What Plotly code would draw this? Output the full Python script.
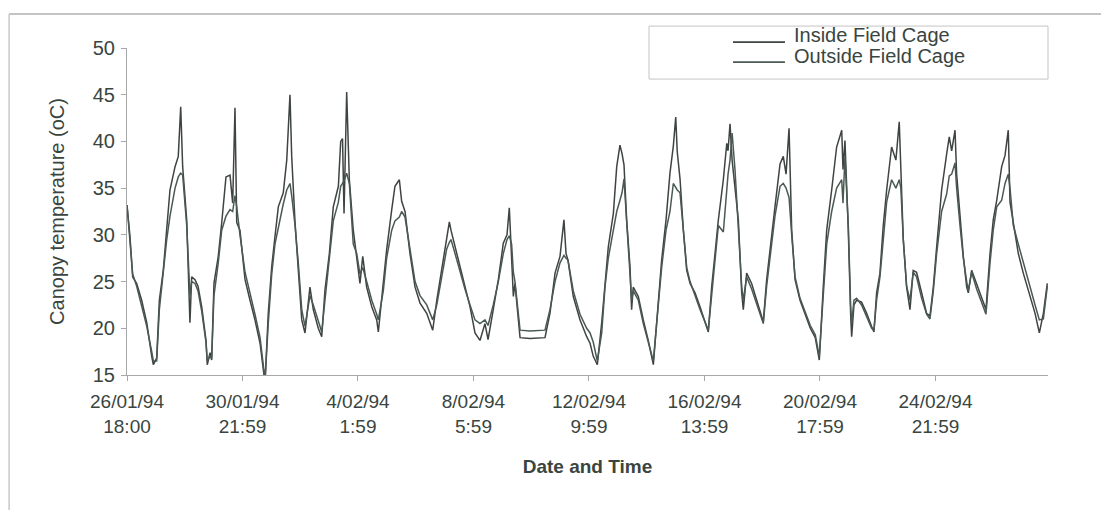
import pandas as pd
import plotly.graph_objects as go

# hours elapsed since 26/01/94 18:00
hours = [
    0, 2.6, 4.9, 8.4, 12.7, 17.1, 21.4, 22.8, 25.7, 28.0, 31.4, 34.4, 37.2, 41.6, 44.4, 46.5, 48.2, 51.7, 54.5,
    56.0, 58.9, 61.5, 64.7, 68.4, 69.5, 71.9, 73.3, 75.3, 79.0, 82.0, 85.7, 89.2, 91.5, 93.5, 95.0, 97.8,
    102.2, 106.5, 110.8, 115.2, 119.5, 122.3, 125.3, 128.1, 131.0, 135.3, 138.3, 141.1, 142.6, 145.5,
    148.3, 151.3, 154.1, 158.4, 161.3, 165.6, 168.6, 171.4, 175.2, 178.6, 183.0, 185.0, 186.6, 187.9, 190.2, 192.5, 195.9,
    198.9, 201.7, 204.1, 207.5, 211.9, 216.2, 217.6, 221.9, 224.8, 229.2, 232.0, 235.8, 237.8, 240.7, 245.0,
    249.4, 253.7, 259.5, 264.7, 268.2, 272.5, 276.8, 279.1, 280.5, 284.0, 288.3, 292.6, 297.0,
    301.3, 305.6, 309.9, 312.6, 317.1, 321.5, 325.8, 329.0, 331.0, 333.0, 334.5, 335.9,
    340.3, 348.9, 361.9, 366.2, 370.6, 374.9, 378.3, 380.1, 381.8, 386.4, 392.2, 398.0, 400.9, 403.7, 407.2,
    411.0, 413.9, 416.7, 421.1, 424.0, 426.8, 428.6, 430.3, 432.6, 435.5, 436.9, 438.3, 442.7, 447.0, 451.3, 455.7,
    460.0, 462.9, 466.7, 470.1, 473.0, 475.1, 476.4, 478.8, 481.7, 484.6, 487.5, 491.8, 496.1, 503.3,
    506.2, 509.1, 512.0, 516.3, 519.3, 520.4, 522.1, 523.9, 526.4, 529.3, 532.2, 533.6, 536.5, 540.8, 545.2, 550.9,
    553.8, 557.3, 561.0, 565.4, 568.2, 570.6, 573.2, 575.5, 578.4, 582.7, 588.5, 591.6, 595.9, 599.4,
    602.8, 605.8, 610.1, 614.4, 618.8, 619.9, 621.6, 624.5, 626.5, 627.4, 629.4, 631.7, 636.0, 640.4, 644.7, 646.7,
    649.0, 651.9, 654.7, 657.7, 662.0, 665.7, 668.6, 670.0, 672.1, 675.0, 677.9, 680.7, 683.6, 688.0, 692.3, 695.2,
    698.1, 701.0, 705.3, 709.7, 711.9, 714.0, 716.9, 718.3, 721.2, 724.1, 727.0, 728.4, 731.3, 735.6, 739.9, 743.7,
    747.2, 750.0, 753.0, 757.3, 760.2, 763.0, 764.5, 767.4, 771.7, 776.0, 781.8, 786.2, 789.9, 793.4, 796.8,
]

inside_temp = [
    33.2, 29.8, 25.5, 24.8, 23.0, 20.6, 17.0, 16.1, 16.8, 23.0, 26.2, 30.2, 34.8, 37.3, 38.4, 43.7, 37.3, 31.6, 20.6,
    25.5, 25.2, 24.5, 22.3, 18.7, 16.1, 17.4, 16.6, 24.8, 27.7, 31.3, 36.2, 36.4, 33.4, 43.6, 31.3, 30.5,
    25.2, 23.0, 20.9, 18.4, 14.1, 21.6, 26.6, 29.8, 33.0, 34.5, 38.0, 45.0, 38.4, 31.3,
    26.6, 20.9, 19.5, 24.4, 22.0, 20.0, 19.1, 24.1, 28.0, 33.0, 35.2, 40.0, 40.3, 32.3, 45.3, 35.9, 30.5,
    27.3, 24.8, 27.7, 24.4, 22.3, 20.9, 19.6, 25.2, 28.4, 32.7, 35.2, 35.9, 33.6, 32.5, 28.0,
    24.4, 22.7, 21.6, 19.8, 23.0, 26.2, 29.5, 31.4, 30.5, 28.7, 26.6, 24.4, 22.3,
    19.5, 18.7, 20.5, 18.8, 22.0, 25.2, 29.1, 30.0, 32.9, 27.7, 23.4, 24.8,
    19.0, 18.9, 19.0, 21.6, 25.9, 27.7, 31.6, 28.0, 27.3, 23.4, 20.9, 19.1, 18.4, 17.0, 16.1,
    20.6, 25.2, 28.7, 32.3, 37.3, 39.6, 38.7, 37.5, 31.6, 26.6, 22.0, 24.4, 23.4, 20.9, 18.7, 16.1,
    23.4, 27.3, 31.6, 36.6, 39.5, 42.6, 38.9, 36.0, 30.5, 26.2, 24.8, 23.8, 22.3, 19.6,
    24.4, 28.0, 31.6, 35.9, 39.8, 39.0, 41.9, 38.0, 35.0, 31.6, 23.8, 22.0, 25.9, 24.8, 23.0, 20.7,
    25.2, 28.7, 33.0, 37.6, 38.4, 36.5, 41.4, 30.5, 25.2, 23.0, 20.9, 20.0, 19.0, 16.6,
    24.4, 30.5, 34.8, 39.4, 41.2, 37.0, 40.1, 30.5, 21.6, 19.1, 22.5, 23.0, 22.8, 21.6, 20.2, 19.6,
    23.8, 25.9, 30.9, 34.8, 39.4, 38.0, 42.1, 36.0, 29.5, 24.4, 22.0, 26.2, 26.0, 23.8, 21.6, 21.3,
    24.4, 28.7, 34.8, 38.7, 40.5, 39.0, 41.2, 36.5, 31.6, 27.7, 24.4, 23.8, 26.2, 24.8, 23.4, 22.0,
    28.0, 31.6, 33.7, 37.3, 38.5, 41.2, 33.5, 31.2, 28.0, 25.9, 23.4, 21.6, 19.5, 21.6, 24.8,
]

outside_temp = [
    33.2, 29.5, 25.8, 24.5, 22.5, 20.2, 17.5, 16.5, 16.5, 22.0, 26.0, 29.5, 32.0, 35.0, 36.2, 36.6, 36.4, 31.0, 23.5,
    25.0, 24.8, 24.0, 21.8, 18.5, 16.5, 17.0, 16.8, 23.5, 27.0, 30.5, 32.0, 32.7, 32.5, 34.2, 33.0, 30.0,
    26.0, 23.8, 21.5, 19.0, 14.5, 20.5, 25.8, 29.0, 30.9, 33.3, 34.8, 35.5, 34.2, 31.0,
    27.0, 22.0, 20.2, 23.5, 22.5, 20.8, 19.6, 23.0, 27.5, 31.5, 33.5, 35.2, 35.5, 35.8, 36.6, 35.5, 29.0,
    28.0, 25.8, 26.5, 25.0, 23.0, 21.5, 20.9, 24.0, 27.5, 30.5, 31.5, 31.9, 32.5, 31.9, 28.5,
    25.0, 23.5, 22.5, 20.9, 22.5, 25.5, 28.5, 29.2, 29.5, 28.0, 26.0, 24.2, 22.5,
    20.9, 20.5, 20.9, 20.3, 22.5, 25.0, 28.0, 29.5, 29.9, 29.0, 26.0, 25.0,
    19.8, 19.7, 19.8, 22.0, 25.0, 27.0, 27.8, 27.5, 27.3, 24.0, 21.5, 20.0, 19.5, 18.5, 16.5,
    19.5, 24.5, 27.5, 30.5, 32.5, 33.7, 34.5, 36.0, 31.0, 26.0, 23.0, 24.0, 23.0, 20.5, 18.5, 16.5,
    22.5, 26.5, 30.5, 32.5, 35.5, 35.0, 34.8, 34.5, 30.5, 26.5, 25.0, 23.5, 22.0, 19.8,
    23.5, 27.5, 31.0, 30.3, 35.5, 36.5, 38.0, 40.9, 37.0, 31.0, 24.5, 23.0, 25.5, 24.2, 22.5, 20.5,
    24.5, 28.0, 32.0, 35.2, 35.5, 35.0, 34.0, 30.0, 25.5, 23.2, 21.2, 20.3, 19.3, 17.0,
    23.5, 29.0, 32.5, 35.0, 35.9, 33.4, 38.3, 31.0, 22.5, 20.5, 23.0, 23.2, 22.5, 21.2, 20.0, 19.8,
    23.0, 25.5, 29.5, 33.5, 35.9, 35.0, 35.9, 35.0, 29.5, 24.5, 23.0, 26.0, 25.5, 23.2, 21.5, 21.0,
    24.0, 28.0, 32.5, 34.4, 36.3, 36.5, 37.7, 35.0, 31.0, 27.5, 25.0, 24.0, 26.0, 24.2, 22.8, 21.5,
    27.0, 30.5, 33.0, 33.7, 35.5, 36.5, 35.0, 31.0, 29.0, 27.0, 24.5, 22.5, 20.9, 21.0, 24.5,
]

tick_times = ["1994-01-26 18:00", "1994-01-30 21:59", "1994-02-04 01:59", "1994-02-08 05:59",
              "1994-02-12 09:59", "1994-02-16 13:59", "1994-02-20 17:59", "1994-02-24 21:59"]
tick_labels = ["26/01/94<br>18:00", "30/01/94<br>21:59", "4/02/94<br>1:59", "8/02/94<br>5:59",
               "12/02/94<br>9:59", "16/02/94<br>13:59", "20/02/94<br>17:59", "24/02/94<br>21:59"]
series_names = ["Inside Field Cage", "Outside Field Cage"]
series_colors = ["#3e4442", "#4a5a52"]

assert len(hours) == len(inside_temp) == len(outside_temp)

start = pd.Timestamp("1994-01-26 18:00")
x = start + pd.to_timedelta(hours, unit="h")
x_end = start + pd.to_timedelta(797.4, unit="h")

font_family = "Liberation Sans, Arial, sans-serif"
text_col = "#3a4540"

fig = go.Figure()
for name, vals, col in zip(series_names, [inside_temp, outside_temp], series_colors):
    fig.add_trace(go.Scatter(x=x, y=vals, mode="lines", name=name, showlegend=False,
                             line=dict(color=col, width=1.5)))

# legend drawn as a framed box with line samples and labels
legend_rows_y = [1.040, 0.9755]
legend_line_y = [1.018, 0.957]
shapes = [
    dict(type="rect", xref="paper", yref="paper", x0=0.5668, x1=1.0, y0=0.905, y1=1.067,
         line=dict(color="#c4c4c4", width=1)),
    # outer frame (top and left edges)
    dict(type="line", xref="paper", yref="paper", x0=-0.128, x1=1.06, y0=1.104, y1=1.104,
         line=dict(color="#b0b0b0", width=1.5)),
    dict(type="line", xref="paper", yref="paper", x0=-0.128, x1=-0.128, y0=1.104, y1=-0.42,
         line=dict(color="#c8c8c8", width=1.5)),
]
annotations = []
for name, col, ty, ly in zip(series_names, series_colors, legend_rows_y, legend_line_y):
    shapes.append(dict(type="line", xref="paper", yref="paper", x0=0.658, x1=0.7144, y0=ly, y1=ly,
                       line=dict(color=col, width=1.8)))
    annotations.append(dict(text=name, xref="paper", yref="paper", x=0.722, y=ty,
                            xanchor="left", yanchor="middle", showarrow=False,
                            font=dict(size=20, color=text_col)))

fig.update_layout(
    width=1101, height=510,
    margin=dict(l=127, r=53, t=48, b=135),
    paper_bgcolor="white", plot_bgcolor="white",
    font=dict(family=font_family, size=19, color=text_col),
    showlegend=False,
    xaxis=dict(type="date", range=[start, x_end], tickmode="array",
               tickvals=pd.to_datetime(tick_times), ticktext=tick_labels,
               showgrid=False, zeroline=False, showline=True, linecolor="#a8a8a8",
               linewidth=1, ticks="outside", ticklen=5, tickcolor="#a8a8a8",
               tickfont=dict(size=19, color=text_col), ticklabelstandoff=4,
               title=dict(text="<b>Date and Time</b>", font=dict(size=19, color=text_col),
                          standoff=24)),
    yaxis=dict(range=[15, 50], tickmode="array", tickvals=[15, 20, 25, 30, 35, 40, 45, 50],
               showgrid=False, zeroline=False, showline=True, linecolor="#a8a8a8",
               linewidth=1, ticks="outside", ticklen=5, tickcolor="#a8a8a8",
               tickfont=dict(size=20, color=text_col), ticklabelstandoff=2,
               title=dict(text="Canopy temperature (oC)", font=dict(size=20, color=text_col),
                          standoff=22)),
    shapes=shapes,
    annotations=annotations,
)

fig.write_html("out.html")
